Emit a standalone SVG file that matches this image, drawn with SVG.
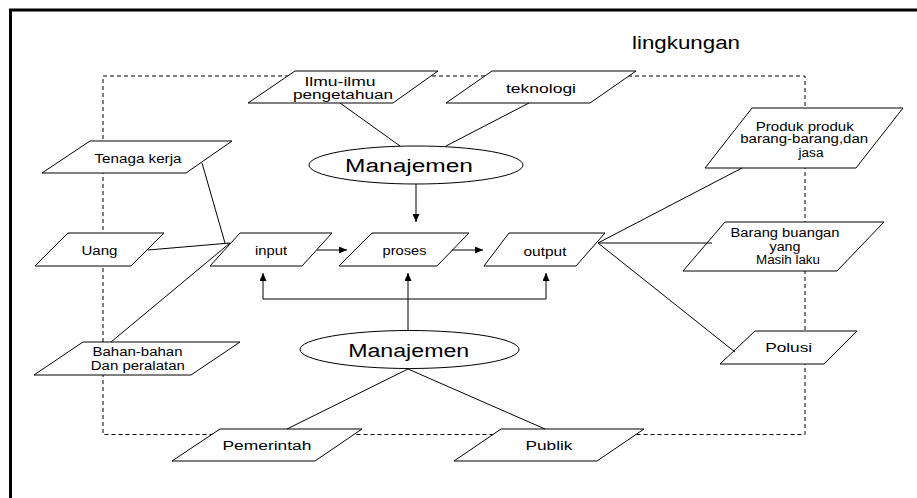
<svg xmlns="http://www.w3.org/2000/svg" width="917" height="498" viewBox="0 0 917 498">
<style>
.bg{fill:#fff}
.frame{stroke:#000;stroke-width:3;fill:none}
.env{stroke:#000;stroke-width:1;fill:none;stroke-dasharray:4 3}
.box{fill:#fff;stroke:#000;stroke-width:1}
.ln{stroke:#000;stroke-width:1;fill:none}
.t{font-family:"Liberation Sans",Arial,sans-serif;font-size:12.5px;fill:#000;text-anchor:middle}
.tb{font-family:"Liberation Sans",Arial,sans-serif;font-size:18px;fill:#000;text-anchor:middle}
</style>
<defs>
<marker id="arr" markerUnits="userSpaceOnUse" markerWidth="8" markerHeight="7" refX="8" refY="3.5" orient="auto">
<path d="M0,0 L8,3.5 L0,7 z" fill="#000"/>
</marker>
</defs>
<rect class="bg" x="0" y="0" width="917" height="498"/>
<g id="frame">
<path class="frame" d="M10.5,498 V10 H917"/>
</g>
<g id="lingkungan">
<rect class="env" x="103" y="76" width="702" height="358.5"/>
<text class="tb" x="686" y="49" font-size="19.5" textLength="108" lengthAdjust="spacingAndGlyphs">lingkungan</text>
</g>
<g id="ilmu">
<polygon class="box" points="295,71 438,71 393,103 248,103"/>
<text class="t" x="340" y="85.5" textLength="71" lengthAdjust="spacingAndGlyphs">Ilmu-ilmu</text>
<text class="t" x="343" y="99" textLength="100" lengthAdjust="spacingAndGlyphs">pengetahuan</text>
</g>
<g id="teknologi">
<polygon class="box" points="492,71 636,71 590,103 446,103"/>
<text class="t" x="541" y="92.5" textLength="70" lengthAdjust="spacingAndGlyphs">teknologi</text>
</g>
<g id="manajemen1">
<ellipse class="box" cx="416" cy="165" rx="107" ry="19"/>
<text class="tb" x="409" y="172" textLength="128" lengthAdjust="spacingAndGlyphs">Manajemen</text>
</g>
<g id="tenaga">
<polygon class="box" points="90,141 232,141 186,173 42,173"/>
<text class="t" x="138" y="162.5" textLength="87" lengthAdjust="spacingAndGlyphs">Tenaga kerja</text>
</g>
<g id="uang">
<polygon class="box" points="68,233 164,233 131,266 35,266"/>
<text class="t" x="99.5" y="255" textLength="36" lengthAdjust="spacingAndGlyphs">Uang</text>
</g>
<g id="input">
<polygon class="box" points="240,233 332,233 302,266 210,266"/>
<text class="t" x="271" y="255" textLength="32" lengthAdjust="spacingAndGlyphs">input</text>
</g>
<g id="proses">
<polygon class="box" points="372,233 469,233 437,266 339,266"/>
<text class="t" x="404.5" y="255" textLength="44" lengthAdjust="spacingAndGlyphs">proses</text>
</g>
<g id="output">
<polygon class="box" points="509,233 605,233 576,266 484,266"/>
<text class="t" x="545" y="255.5" textLength="43" lengthAdjust="spacingAndGlyphs">output</text>
</g>
<g id="bahan">
<polygon class="box" points="83,342 240,342 191,375 34,375"/>
<text class="t" x="137.5" y="356" font-size="11" textLength="90" lengthAdjust="spacingAndGlyphs">Bahan-bahan</text>
<text class="t" x="137.8" y="369.5" font-size="11" textLength="94" lengthAdjust="spacingAndGlyphs">Dan peralatan</text>
</g>
<g id="manajemen2">
<ellipse class="box" cx="409.5" cy="349.5" rx="109.5" ry="19"/>
<text class="tb" x="408.7" y="357.3" textLength="121" lengthAdjust="spacingAndGlyphs">Manajemen</text>
</g>
<g id="pemerintah">
<polygon class="box" points="220,429 362,429 315,461 172,461"/>
<text class="t" x="267" y="450.3" font-size="13.5" textLength="89" lengthAdjust="spacingAndGlyphs">Pemerintah</text>
</g>
<g id="publik">
<polygon class="box" points="501,429 644,429 597,461 454,461"/>
<text class="t" x="549" y="450.3" font-size="13.5" textLength="47" lengthAdjust="spacingAndGlyphs">Publik</text>
</g>
<g id="produk">
<polygon class="box" points="752,108 903,108 856,168 705,168"/>
<text class="t" x="804.8" y="130.7" textLength="98" lengthAdjust="spacingAndGlyphs">Produk produk</text>
<text class="t" x="804.2" y="143.3" textLength="128" lengthAdjust="spacingAndGlyphs">barang-barang,dan</text>
<text class="t" x="811" y="156.7" textLength="25" lengthAdjust="spacingAndGlyphs">jasa</text>
</g>
<g id="barang">
<polygon class="box" points="725,222 884,222 837,271 683,271"/>
<text class="t" x="785" y="237.3" textLength="109" lengthAdjust="spacingAndGlyphs">Barang buangan</text>
<text class="t" x="785" y="251" textLength="31" lengthAdjust="spacingAndGlyphs">yang</text>
<text class="t" x="788" y="264" textLength="64" lengthAdjust="spacingAndGlyphs">Masih laku</text>
</g>
<g id="polusi">
<polygon class="box" points="755,331 857,331 824,364 720,364"/>
<text class="t" x="788.7" y="352.3" font-size="13.5" textLength="47" lengthAdjust="spacingAndGlyphs">Polusi</text>
</g>
<g id="connectors">
<line class="ln" x1="340" y1="103" x2="400" y2="146"/>
<line class="ln" x1="529" y1="103" x2="446" y2="146"/>
<line class="ln" x1="416" y1="184" x2="416" y2="222" marker-end="url(#arr)"/>
<line class="ln" x1="202" y1="163" x2="225" y2="243"/>
<line class="ln" x1="148" y1="250" x2="230" y2="243"/>
<line class="ln" x1="111" y1="342" x2="230" y2="243"/>
<line class="ln" x1="317" y1="250" x2="347" y2="250" marker-end="url(#arr)"/>
<line class="ln" x1="452" y1="250" x2="483" y2="250" marker-end="url(#arr)"/>
<path class="ln" d="M263,299 H546"/>
<line class="ln" x1="263" y1="299" x2="263" y2="273" marker-end="url(#arr)"/>
<line class="ln" x1="546" y1="299" x2="546" y2="273" marker-end="url(#arr)"/>
<line class="ln" x1="408" y1="331" x2="408" y2="273" marker-end="url(#arr)"/>
<line class="ln" x1="598" y1="243" x2="742" y2="168"/>
<line class="ln" x1="598" y1="243" x2="712" y2="243"/>
<line class="ln" x1="598" y1="243" x2="735" y2="352"/>
<line class="ln" x1="408" y1="369" x2="287" y2="429"/>
<line class="ln" x1="408" y1="369" x2="545" y2="429"/>
</g>
</svg>
